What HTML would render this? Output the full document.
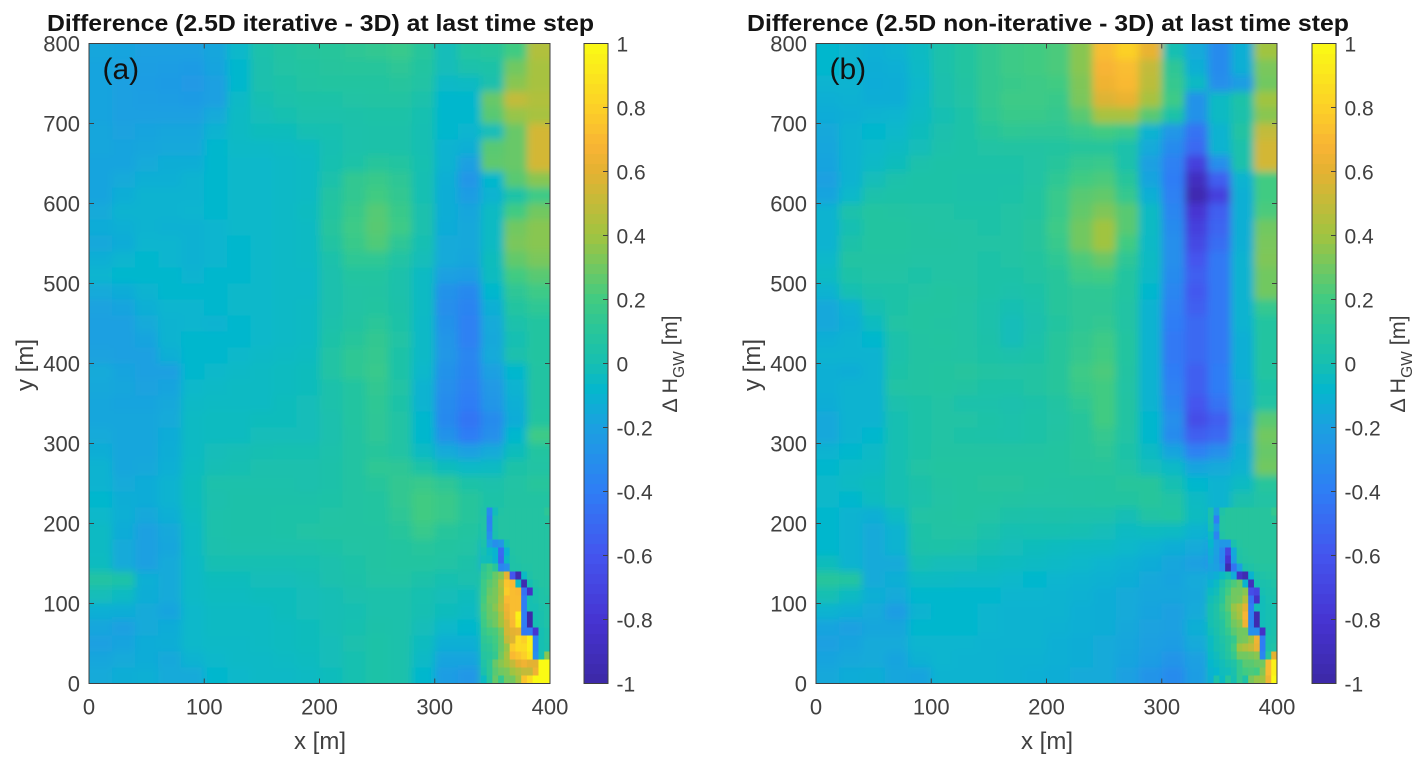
<!DOCTYPE html>
<html lang="en">
<head>
<meta charset="utf-8">
<title>Difference maps</title>
<style>
html,body{margin:0;padding:0;background:#fff;width:1428px;height:767px;overflow:hidden}
svg{display:block;font-family:"Liberation Sans",Arial,sans-serif}
</style>
</head>
<body>
<svg id="fig" xmlns="http://www.w3.org/2000/svg" width="1428" height="767" viewBox="0 0 1428 767">
<defs>
<filter id="smooth" x="-5%" y="-5%" width="110%" height="110%"><feGaussianBlur stdDeviation="4"/></filter>
<clipPath id="clip-a"><rect x="89" y="43.5" width="461" height="640"/></clipPath>
<clipPath id="clip-b"><rect x="816" y="43.5" width="461" height="640"/></clipPath>
</defs>
</svg>
<script>
const xTicks = [0, 100, 200, 300, 400];
const yTicks = [0, 100, 200, 300, 400, 500, 600, 700, 800];
const colorbarTicks = [-1, -0.8, -0.6, -0.4, -0.2, 0, 0.2, 0.4, 0.6, 0.8, 1];
const colorbarLabels = ['-1', '-0.8', '-0.6', '-0.4', '-0.2', '0', '0.2', '0.4', '0.6', '0.8', '1'];

// Difference in metres. Rows run from y=800 down to y=0 in 20 m bands; columns x=0..400 in 20 m bands.
const panelAValues = [
[-.17,-.18,-.2,-.2,-.2,-.17,-.07,.03,.07,.09,.1,.12,.14,.16,.1,-.02,.08,.1,.2,.45],
[-.18,-.19,-.21,-.22,-.23,-.18,-.08,.02,.06,.08,.09,.1,.1,.12,.08,-.02,.03,.05,.3,.42],
[-.18,-.2,-.22,-.23,-.24,-.2,-.08,.02,.05,.07,.08,.08,.08,.09,.06,-.06,-.05,.02,.35,.42],
[-.18,-.2,-.21,-.22,-.23,-.2,-.06,0,.03,.05,.05,.06,.07,.07,.03,-.08,-.08,.28,.5,.45],
[-.18,-.2,-.2,-.2,-.2,-.15,-.05,-.02,.01,.03,.03,.04,.05,.05,.01,-.08,-.08,.25,.38,.42],
[-.17,-.19,-.18,-.17,-.17,-.1,-.05,-.03,-.03,0,.01,.03,.04,.04,0,-.08,-.09,-.02,.28,.55],
[-.17,-.18,-.17,-.16,-.16,-.08,-.06,-.06,-.05,-.04,0,.03,.04,.04,0,-.1,-.12,.25,.28,.55],
[-.18,-.18,-.15,-.13,-.13,-.08,-.07,-.07,-.06,-.05,.01,.05,.1,.08,.01,-.1,-.2,.26,.28,.55],
[-.18,-.15,-.12,-.12,-.1,-.08,-.07,-.07,-.06,-.05,.03,.14,.17,.12,0,-.12,-.26,-.08,.25,.35],
[-.18,-.13,-.1,-.1,-.1,-.08,-.07,-.07,-.06,-.05,.07,.14,.2,.14,0,-.13,-.22,-.1,.05,.18],
[-.15,-.1,-.1,-.1,-.09,-.08,-.07,-.07,-.06,-.04,.08,.17,.24,.17,.02,-.13,-.17,-.05,.2,.3],
[-.14,-.12,-.1,-.11,-.11,-.09,-.07,-.07,-.06,-.05,.09,.18,.25,.18,.02,-.14,-.16,-.05,.3,.35],
[-.16,-.14,-.09,-.09,-.11,-.09,-.08,-.07,-.06,-.05,.07,.17,.23,.12,0,-.15,-.16,-.05,.32,.35],
[-.12,-.09,-.08,-.09,-.11,-.09,-.08,-.07,-.06,-.05,.03,.13,.13,.06,-.02,-.15,-.17,-.03,.27,.32],
[-.09,-.08,-.08,-.08,-.1,-.08,-.08,-.07,-.06,-.06,.02,.08,.08,.03,-.05,-.2,-.22,-.04,.2,.25],
[-.15,-.14,-.1,-.08,-.08,-.08,-.07,-.07,-.06,-.06,.02,.06,.07,.03,-.05,-.28,-.33,-.08,.12,.18],
[-.19,-.18,-.12,-.09,-.09,-.08,-.07,-.07,-.06,-.05,.02,.06,.08,.04,-.05,-.3,-.36,-.12,.08,.13],
[-.2,-.2,-.15,-.1,-.09,-.1,-.08,-.07,-.06,-.05,.03,.07,.11,.05,-.06,-.28,-.38,-.15,.03,.08],
[-.2,-.2,-.18,-.1,-.08,-.08,-.08,-.07,-.06,-.05,.05,.1,.14,.06,-.06,-.26,-.38,-.16,0,.08],
[-.19,-.2,-.2,-.12,-.08,-.08,-.07,-.06,-.05,-.04,.06,.13,.15,.05,-.06,-.25,-.35,-.15,.02,.08],
[-.15,-.18,-.2,-.2,-.08,-.07,-.06,-.05,-.04,-.03,.06,.13,.16,.05,-.07,-.28,-.36,-.2,-.08,.07],
[-.16,-.17,-.19,-.18,-.07,-.06,-.05,-.05,-.04,-.03,.03,.08,.14,.06,-.1,-.3,-.38,-.24,-.1,.07],
[-.17,-.18,-.18,-.16,-.06,-.05,-.05,-.05,-.03,-.02,.03,.08,.13,.05,-.1,-.32,-.4,-.26,-.12,.07],
[-.17,-.17,-.17,-.15,-.05,-.04,-.04,-.03,-.03,-.02,.02,.08,.12,.06,-.08,-.33,-.44,-.32,-.14,.08],
[-.15,-.17,-.17,-.14,-.05,-.04,-.04,-.02,-.02,-.02,.02,.07,.12,.06,-.08,-.28,-.4,-.3,-.08,.18],
[-.13,-.17,-.17,-.13,-.05,-.02,-.01,0,.01,.01,.03,.07,.1,.06,-.05,-.15,-.2,-.15,-.03,.08],
[-.1,-.17,-.16,-.12,-.04,-.01,0,.02,.02,.02,.04,.07,.13,.12,.05,-.03,-.06,-.05,.05,.06],
[-.1,-.15,-.14,-.1,-.03,.03,.03,.03,.03,.02,.04,.07,.1,.14,.16,.12,.05,.03,.06,.1],
[-.08,-.13,-.14,-.1,-.03,.02,.04,.04,.04,.04,.05,.07,.08,.14,.2,.17,.1,.05,.07,.07],
[-.07,-.12,-.16,-.12,-.04,.03,.04,.04,.05,.05,.06,.07,.08,.12,.2,.16,.1,.02,.07,.07],
[-.05,-.14,-.2,-.16,-.05,.03,.04,.04,.05,.06,.07,.07,.07,.1,.16,.1,.08,0,.07,.07],
[-.05,-.15,-.2,-.17,-.05,.02,.03,.03,.03,.03,.05,.06,.07,.08,.1,.08,.06,-.1,.07,.07],
[-.04,-.15,-.2,-.15,-.06,0,0,0,0,.01,.02,.05,.07,.08,.08,.06,.04,-.15,.05,.05],
[.07,.05,-.12,-.15,-.06,-.03,-.03,-.02,-.02,-.01,.02,.04,.06,.06,.04,.01,.02,.1,.5,.05],
[-.02,-.05,-.13,-.15,-.06,-.04,-.04,-.03,-.03,-.02,-.01,.02,.03,.03,.01,-.02,-.03,.2,.6,0],
[-.12,-.13,-.15,-.18,-.07,-.05,-.05,-.05,-.03,-.02,-.01,0,.03,.03,0,-.03,-.05,.2,.6,0],
[-.17,-.2,-.15,-.14,-.07,-.05,-.05,-.05,-.04,-.03,-.01,.01,.04,.03,-.02,-.07,-.08,.1,.6,0],
[-.2,-.18,-.14,-.13,-.07,-.06,-.06,-.05,-.04,-.03,-.02,.02,.05,.03,-.04,-.12,-.12,.05,.65,0],
[-.17,-.15,-.14,-.16,-.1,-.07,-.06,-.06,-.05,-.04,-.02,.01,.05,.03,-.06,-.18,-.18,.05,.5,.9],
[-.15,-.13,-.12,-.15,-.15,-.08,-.07,-.06,-.06,-.05,-.03,.01,.05,.03,-.08,-.22,-.25,.08,.4,.9]
];

const panelBValues = [
[-.08,-.1,-.12,-.1,-.05,.03,.08,.14,.18,.2,.22,.35,.72,.8,.62,0,-.15,-.32,-.12,.4],
[-.08,-.1,-.13,-.12,-.06,.03,.08,.14,.18,.2,.22,.35,.68,.72,.5,.12,-.12,-.32,-.12,.32],
[-.1,-.1,-.14,-.13,-.07,.02,.07,.14,.17,.18,.2,.33,.65,.7,.48,.15,-.05,-.3,-.22,.3],
[-.12,-.11,-.13,-.13,-.06,.02,.06,.14,.18,.18,.17,.32,.58,.62,.42,.18,-.28,-.05,.05,.4],
[-.14,-.12,-.1,-.09,-.05,0,.05,.13,.17,.17,.15,.25,.42,.42,.25,.05,-.28,-.05,.03,.35],
[-.16,-.1,-.08,-.07,-.03,.02,.05,.1,.13,.12,.12,.16,.2,.16,-.1,-.25,-.45,-.1,.07,.5],
[-.17,-.1,-.07,-.05,-.02,.03,.05,.06,.07,.07,.08,.1,.1,.03,-.15,-.32,-.5,-.1,.03,.55],
[-.18,-.1,-.06,-.03,.03,.05,.05,.05,.05,.06,.1,.15,.16,.03,-.2,-.38,-.72,-.3,.03,.55],
[-.2,-.1,-.02,.03,.05,.05,.04,.04,.04,.06,.13,.2,.22,.1,-.18,-.4,-.88,-.55,-.1,.2],
[-.18,-.07,.03,.05,.05,.05,.04,.04,.05,.08,.16,.25,.27,.15,-.12,-.38,-.95,-.72,-.12,.2],
[-.1,.03,.08,.07,.06,.06,.05,.05,.06,.08,.16,.27,.33,.25,-.05,-.35,-.8,-.55,-.12,.22],
[-.1,0,.08,.08,.07,.06,.06,.05,.06,.09,.18,.3,.4,.25,-.05,-.32,-.72,-.52,-.12,.3],
[-.1,.04,.08,.08,.07,.07,.06,.06,.06,.09,.16,.3,.4,.2,-.06,-.3,-.68,-.48,-.12,.32],
[-.07,.07,.07,.07,.06,.06,.06,.05,.06,.08,.13,.22,.28,.12,-.05,-.3,-.6,-.42,-.1,.33],
[-.05,.05,.06,.06,.05,.06,.06,.05,.05,.07,.1,.18,.2,.08,-.06,-.32,-.55,-.42,-.1,.3],
[-.1,0,.04,.05,.06,.08,.07,.05,.03,.05,.1,.12,.13,.08,-.08,-.35,-.58,-.42,-.1,.3],
[-.16,-.1,0,.05,.08,.08,.06,.03,0,.03,.1,.12,.12,.06,-.1,-.38,-.55,-.42,-.1,.15],
[-.16,-.12,-.04,.06,.08,.07,.06,.03,-.02,.02,.08,.12,.14,.06,-.1,-.4,-.5,-.42,-.1,.08],
[-.12,-.1,-.08,.03,.07,.08,.06,.04,-.02,.03,.1,.14,.18,.08,-.1,-.42,-.5,-.42,-.12,.08],
[-.1,-.1,-.1,.03,.07,.07,.06,.05,.03,.05,.1,.15,.2,.08,-.1,-.42,-.5,-.42,-.12,.08],
[-.12,-.13,-.1,.05,.07,.08,.09,.07,.06,.07,.1,.18,.22,.07,-.1,-.4,-.55,-.4,-.12,.08],
[-.12,-.1,-.1,.06,.07,.08,.07,.05,.05,.07,.1,.17,.2,.06,-.1,-.38,-.55,-.4,-.15,.05],
[-.13,-.1,-.1,.02,.05,.06,.03,.03,.02,.04,.07,.13,.2,.07,-.1,-.35,-.6,-.45,-.15,.06],
[-.16,-.1,-.1,0,.05,.06,.06,.05,.03,.05,.06,.1,.2,.07,-.08,-.3,-.65,-.55,-.18,.25],
[-.16,-.1,-.08,0,.05,.06,.05,.04,.03,.05,.07,.1,.15,.06,-.08,-.32,-.55,-.5,-.15,.3],
[-.1,-.08,-.06,0,.05,.07,.07,.07,.07,.07,.08,.1,.12,.05,-.05,-.18,-.38,-.3,-.12,.28],
[-.08,-.06,-.05,0,.06,.08,.08,.08,.08,.08,.08,.09,.1,.06,-.02,-.06,-.18,-.15,-.1,.3],
[-.07,-.05,-.03,0,.04,.07,.08,.09,.09,.08,.07,.07,.08,.1,.1,0,-.08,-.1,-.05,.1],
[-.07,-.08,-.04,0,.03,.06,.08,.08,.07,.06,.06,.07,.08,.08,.1,.06,-.05,-.1,.02,.06],
[-.08,-.1,-.12,-.05,.06,.07,.08,.06,.04,.03,.04,.03,.03,-.01,.06,.08,-.04,-.1,.07,.07],
[-.08,-.1,-.15,-.1,.05,.06,.06,.03,0,.01,.01,0,-.02,-.05,-.04,-.05,-.1,-.15,.07,.07],
[-.08,-.1,-.15,-.1,.04,.05,.03,0,-.02,-.03,-.04,-.05,-.05,-.07,-.1,-.13,-.15,-.25,.07,.07],
[-.03,-.1,-.15,-.15,0,-.02,-.02,-.03,-.04,-.05,-.06,-.07,-.09,-.11,-.14,-.17,-.2,-.3,.02,.05],
[.1,.08,-.15,-.12,-.05,-.05,-.06,-.06,-.07,-.08,-.09,-.1,-.11,-.13,-.16,-.18,-.15,-.1,.2,.02],
[0,-.05,-.12,-.15,-.08,-.08,-.08,-.08,-.09,-.09,-.1,-.11,-.13,-.15,-.17,-.17,-.16,.05,.38,-.05],
[-.1,-.12,-.15,-.22,-.1,-.08,-.08,-.09,-.1,-.1,-.1,-.12,-.13,-.15,-.18,-.2,-.15,.1,.45,-.05],
[-.18,-.2,-.17,-.17,-.08,-.08,-.08,-.09,-.1,-.1,-.11,-.12,-.13,-.16,-.19,-.2,-.12,0,.35,0],
[-.2,-.18,-.15,-.15,-.09,-.09,-.09,-.1,-.1,-.1,-.12,-.13,-.15,-.17,-.2,-.22,-.15,-.02,.3,.05],
[-.18,-.16,-.15,-.18,-.11,-.09,-.1,-.1,-.11,-.11,-.12,-.13,-.15,-.18,-.22,-.27,-.2,-.05,.25,.7],
[-.16,-.14,-.13,-.17,-.18,-.1,-.1,-.1,-.11,-.12,-.13,-.15,-.15,-.2,-.27,-.32,-.22,-.02,.3,.85]
];

// Fine-detail matrices for the lower-right river corner: x=340..400 in 5 m, y=220..0 in 10 m.
const panelADetail = [
[.05,-.32,-.02,.06,.07,.07,.07,.07,.07,.07,.07,.12],
[.06,-.38,.03,.07,.07,.07,.07,.07,.07,.07,.07,.08],
[.06,-.36,.03,.07,.07,.07,.07,.07,.07,.07,.07,.07],
[.05,-.3,.02,.07,.07,.07,.07,.07,.07,.07,.07,.07],
[.03,-.2,-.3,-.25,0,.07,.07,.07,.07,.07,.07,.07],
[0,-.05,-.1,-.5,-.1,.06,.07,.07,.07,.07,.07,.07],
[-.02,-.03,-.1,-.52,-.05,.05,.06,.07,.07,.07,.07,.07],
[.12,.18,.1,-.35,-.3,.05,.05,.06,.06,.07,.07,.07],
[.15,.2,.28,.35,.6,-.6,-.95,-.05,.05,.07,.07,.07],
[.18,.25,.3,.45,.75,.7,-.05,-.95,0,.05,.07,.07],
[.18,.28,.32,.42,.78,.72,.7,-.45,-.85,.02,.05,.06],
[.2,.3,.32,.45,.7,.72,.72,-.4,0,.02,.05,.05],
[.22,.28,.35,.48,.65,.72,.72,-.4,0,0,.03,.05],
[.2,.28,.3,.42,.62,.72,.95,-.4,-.98,0,.02,.05],
[.18,.25,.3,.4,.55,.7,.92,-.4,-.98,0,.02,.05],
[.15,.2,.22,.3,.55,.6,.62,-.42,-.42,-.8,0,.03],
[.12,.15,.2,.28,.5,.58,.85,.8,.95,-.35,0,.03],
[.1,.12,.18,.28,.38,.78,.85,.85,.95,-.35,0,.02],
[.08,.1,.15,.3,.42,.7,.75,.8,.9,-.3,0,.35],
[.05,.12,.28,.35,.4,.5,.6,.65,.6,.6,1,1],
[.02,.12,.25,.3,.32,.4,.45,.5,.5,.65,1,1],
[-.05,.1,.28,.15,.3,.3,.4,.75,.85,1,1,1]
];

const panelBDetail = [
[.02,-.2,.05,.09,.09,.09,.09,.09,.09,.09,.09,.15],
[.02,-.4,.08,.09,.09,.09,.09,.09,.09,.09,.09,.1],
[0,-.22,.08,.09,.09,.09,.09,.09,.09,.09,.09,.09],
[-.05,-.35,.06,.09,.09,.09,.09,.09,.09,.09,.09,.09],
[-.08,-.2,-.25,-.25,.02,.08,.09,.09,.09,.09,.09,.09],
[-.12,-.2,-.35,-.7,-.15,.06,.08,.09,.09,.09,.09,.09],
[-.15,-.22,-.35,-.8,-.2,.05,.07,.08,.09,.09,.09,.09],
[-.18,-.2,-.3,-.95,-.45,-.2,.03,.05,.07,.08,.08,.08],
[-.15,-.12,-.05,0,-.15,-.85,-.95,-.1,.02,.05,.06,.07],
[-.1,-.05,.05,.15,.22,.28,-.1,-.9,0,.02,.03,.05],
[-.05,-.02,.1,.2,.3,.3,.35,-.65,-.7,0,.02,.03],
[-.02,.02,.1,.25,.3,.32,.45,-.45,-.85,-.02,.01,.02],
[0,.05,.15,.25,.38,.45,.6,-.4,-.02,-.02,0,.01],
[0,.05,.12,.2,.35,.42,.68,-.38,-.95,-.02,0,.01],
[0,.04,.08,.2,.3,.35,.65,-.35,-.95,-.02,0,.01],
[-.02,.02,.08,.15,.25,.3,.3,-.3,-.3,-.85,0,.02],
[-.05,0,.05,.1,.15,.3,.32,.4,.65,-.4,.02,.03],
[-.05,0,.03,.1,.2,.4,.45,.5,.62,-.4,.03,.05],
[-.06,-.03,.02,.08,.15,.3,.3,.32,.35,-.35,.1,.6],
[-.08,-.05,-.02,.02,.05,.15,.25,.25,.28,.3,.7,.95],
[-.1,-.08,-.03,-.02,.02,.15,.2,.22,.2,.35,.7,.95],
[-.12,.05,-.05,.1,0,.15,.05,.32,.38,.4,.65,1]
];

const NS = 'http://www.w3.org/2000/svg';
const fig = document.getElementById('fig');
const INK = '#404040';

// Parula-like colour ramp, sampled from the reference colour bar.
const ramp = [
  [0, 60, 40, 165], [.1, 70, 52, 210], [.2, 68, 85, 238], [.3, 47, 125, 245],
  [.4, 28, 160, 225], [.46, 5, 183, 205], [.5, 22, 191, 178], [.55, 40, 197, 155],
  [.6, 65, 203, 130], [.7, 160, 196, 65],
  [.8, 228, 178, 50], [.84, 248, 180, 52], [.9, 252, 208, 40], [1, 250, 250, 20]
];
function colorOf(v) {
  const t = Math.max(0, Math.min(1, (v + 1) / 2));
  for (let i = 1; i < ramp.length; i++) {
    if (t <= ramp[i][0]) {
      const a = ramp[i - 1], b = ramp[i], f = (t - a[0]) / (b[0] - a[0]);
      return 'rgb(' + [1, 2, 3].map(k => Math.round(a[k] + (b[k] - a[k]) * f)).join(',') + ')';
    }
  }
  return 'rgb(250,250,20)';
}

const PLOT_W = 461, PLOT_TOP = 43.5, PLOT_BOTTOM = 683.5;
function xScale(left, v) { return left + v / 400 * PLOT_W; }
function yScale(v) { return PLOT_BOTTOM - v / 800 * (PLOT_BOTTOM - PLOT_TOP); }
function cbScale(v) { return PLOT_BOTTOM - (v + 1) / 2 * (PLOT_BOTTOM - PLOT_TOP); }

function mk(parent, tag, props) {
  const el = document.createElementNS(NS, tag);
  for (const k in props) el.setAttribute(k, props[k]);
  parent.appendChild(el);
  return el;
}
function label(parent, name, str, props) {
  const el = mk(parent, 'text', props);
  
  
  el.textContent = str;
  return el;
}
function tick(parent, name, x1, y1, x2, y2) {
  const el = mk(parent, 'line', { x1, y1, x2, y2, stroke: INK, 'stroke-width': 1 });
  
  
}

function drawPanel(id, left, cbLeft, values, detail, title, titleX, titleLen, tag) {
  const g = mk(fig, 'g', {});
  
  

  const clipped = mk(g, 'g', { 'clip-path': 'url(#clip-' + id + ')' });
  const base = mk(clipped, 'g', { filter: 'url(#smooth)' });
  
  
  const pad = 16;
  const nRows = values.length, nCols = values[0].length;
  const dx = 400 / nCols, dy = 800 / nRows;
  values.forEach((row, r) => row.forEach((v, c) => {
    let x0 = xScale(left, c * dx), x1 = xScale(left, (c + 1) * dx);
    let y0 = yScale(800 - r * dy), y1 = yScale(800 - (r + 1) * dy);
    if (c === 0) x0 -= pad;
    if (c === nCols - 1) x1 += pad;
    if (r === 0) y0 -= pad;
    if (r === nRows - 1) y1 += pad;
    const cell = mk(base, 'rect', { x: x0, y: y0, width: x1 - x0 + .6, height: y1 - y0 + .6, fill: colorOf(v) });
    
    
  }));

  const fine = mk(clipped, 'g', {});
  
  
  const detailX0 = 340, detailTop = 220, ddx = 5, ddy = 10;
  detail.forEach((row, r) => row.forEach((v, c) => {
    const x0 = xScale(left, detailX0 + c * ddx), x1 = xScale(left, detailX0 + (c + 1) * ddx);
    const y0 = yScale(detailTop - r * ddy), y1 = yScale(detailTop - (r + 1) * ddy);
    const cell = mk(fine, 'rect', { x: x0, y: y0, width: x1 - x0 + .3, height: y1 - y0 + .3, fill: colorOf(v) });
    
    
  }));

  const frame = mk(g, 'rect', { x: left, y: PLOT_TOP, width: PLOT_W, height: PLOT_BOTTOM - PLOT_TOP, fill: 'none', stroke: INK, 'stroke-width': 1 });
  
  

  xTicks.forEach(v => {
    const x = xScale(left, v);
    tick(g, 'x-tick', x, PLOT_BOTTOM, x, PLOT_BOTTOM - 5);
    tick(g, 'x-tick-top', x, PLOT_TOP, x, PLOT_TOP + 5);
    label(g, 'x-tick-label', String(v), { x, y: 714.5, 'text-anchor': 'middle', 'font-size': 22, fill: INK });
  });
  yTicks.forEach(v => {
    const y = yScale(v);
    tick(g, 'y-tick', left, y, left + 5, y);
    tick(g, 'y-tick-right', left + PLOT_W, y, left + PLOT_W - 5, y);
    label(g, 'y-tick-label', String(v), { x: left - 9, y: y + 8, 'text-anchor': 'end', 'font-size': 22, fill: INK });
  });

  label(g, 'x-axis-title', 'x [m]', { x: left + 231, y: 749, 'text-anchor': 'middle', 'font-size': 24, fill: INK });
  const yc = 365, yx = left - 56;
  label(g, 'y-axis-title', 'y [m]', { x: yx, y: yc, 'text-anchor': 'middle', 'font-size': 24, fill: INK, transform: 'rotate(-90 ' + yx + ' ' + yc + ')' });
  label(g, 'chart-title', title, { x: titleX, y: 31, 'font-size': 23, 'font-weight': 'bold', fill: '#141414', textLength: titleLen, lengthAdjust: 'spacingAndGlyphs' });
  label(g, 'panel-tag', tag, { x: left + 13.5, y: 79, 'font-size': 30, fill: '#111' });

  // colour bar
  const cb = mk(g, 'g', {});
  
  
  const steps = 64, cbW = 24;
  for (let i = 0; i < steps; i++) {
    const lo = -1 + 2 * i / steps, hi = -1 + 2 * (i + 1) / steps;
    const band = mk(cb, 'rect', { x: cbLeft, y: cbScale(hi), width: cbW, height: cbScale(lo) - cbScale(hi) + .5, fill: colorOf((lo + hi) / 2) });
    
    
  }
  const cbFrame = mk(cb, 'rect', { x: cbLeft, y: PLOT_TOP, width: cbW, height: PLOT_BOTTOM - PLOT_TOP, fill: 'none', stroke: INK, 'stroke-width': 1 });
  
  
  colorbarTicks.forEach((v, i) => {
    const y = cbScale(v);
    tick(cb, 'colorbar-tick', cbLeft + cbW, y, cbLeft + cbW - 5, y);
    label(cb, 'colorbar-tick-label', colorbarLabels[i], { x: cbLeft + 32.5, y: y + 8, 'font-size': 21, fill: INK });
  });
  const lx = cbLeft + 93, ly = 364;
  const cbTitle = mk(cb, 'text', { x: lx, y: ly, 'text-anchor': 'middle', 'font-size': 21.5, fill: INK, transform: 'rotate(-90 ' + lx + ' ' + ly + ')' });
  
  
  const s1 = mk(cbTitle, 'tspan', {}); s1.textContent = 'Δ H';
  const s2 = mk(cbTitle, 'tspan', { dy: 7, 'font-size': 15.5 }); s2.textContent = 'GW';
  const s3 = mk(cbTitle, 'tspan', { dy: -7 }); s3.textContent = ' [m]';
}

drawPanel('a', 89, 584, panelAValues, panelADetail, 'Difference (2.5D iterative - 3D) at last time step', 47, 547, '(a)');
drawPanel('b', 816, 1312, panelBValues, panelBDetail, 'Difference (2.5D non-iterative - 3D) at last time step', 747, 602, '(b)');
</script>
</body>
</html>
